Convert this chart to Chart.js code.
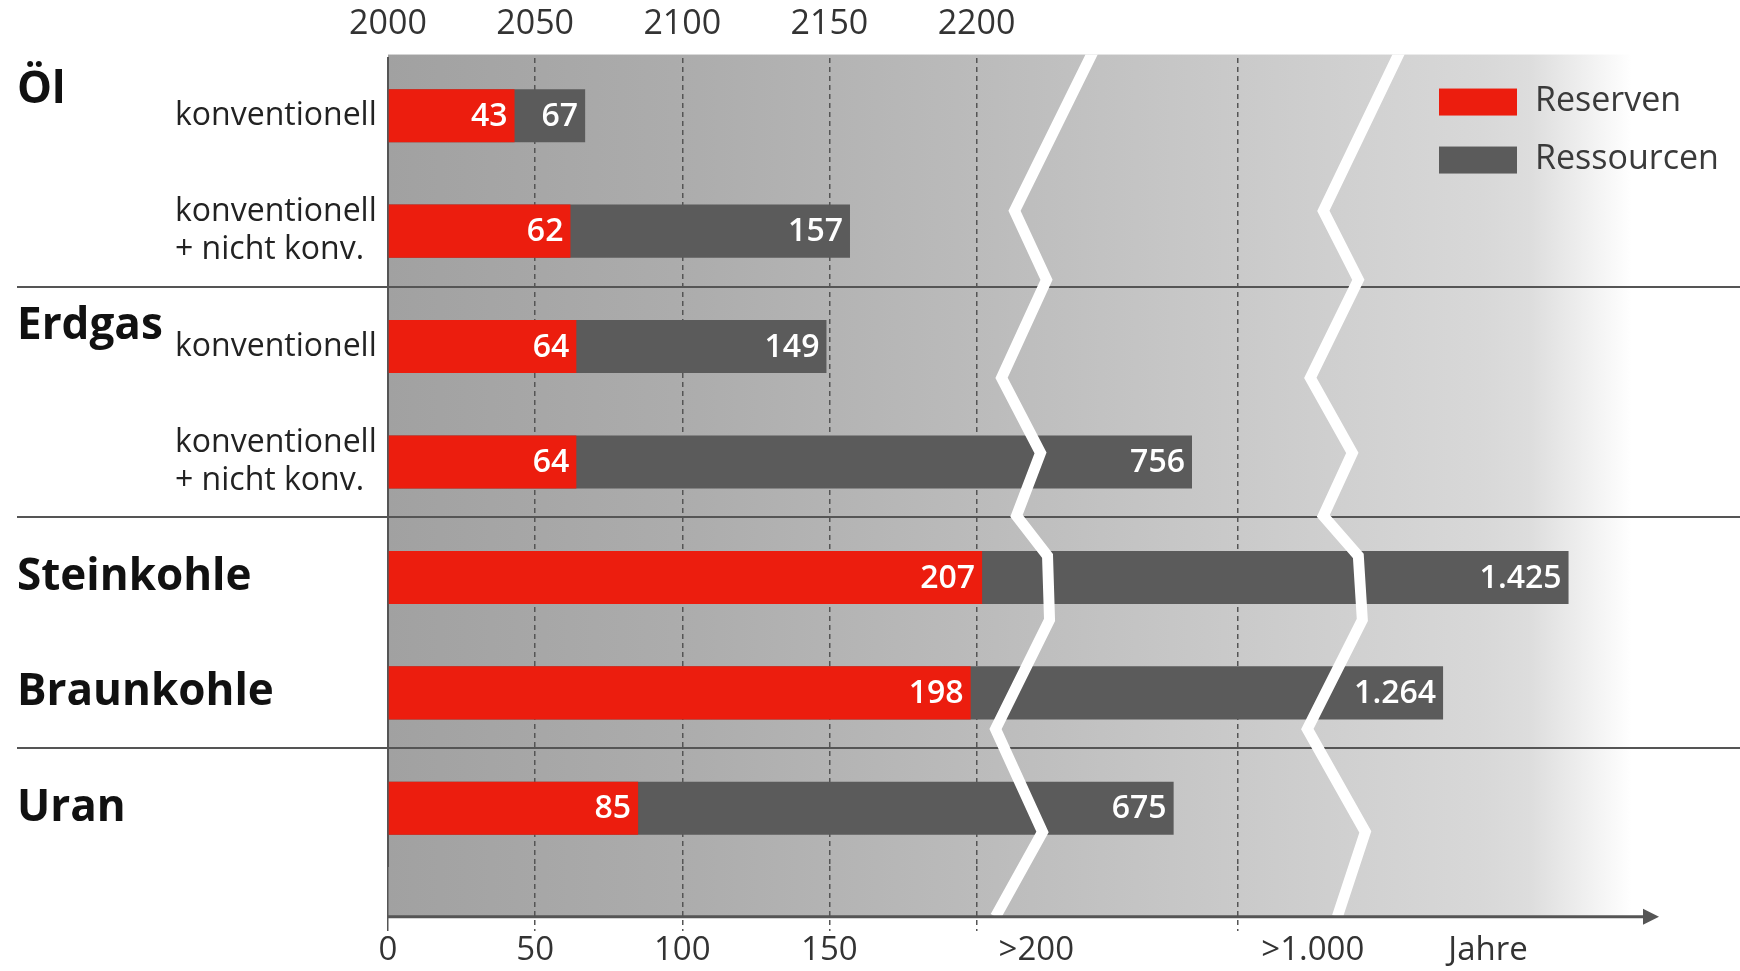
<!DOCTYPE html>
<html>
<head>
<meta charset="utf-8">
<title>Reichweite Energierohstoffe</title>
<script src="https://cdn.jsdelivr.net/npm/chart.js@4.4.1/dist/chart.umd.min.js"></script>
<style>
  html, body { margin: 0; padding: 0; background: #fff; }
</style>
</head>
<body>
<canvas id="chart" width="1740" height="971"></canvas>
<script>
// rows of the chart (sub labels next to the axis, group names further out)
const rowLabels = ['konventionell', ['konventionell', '+ nicht konv.'], 'konventionell', ['konventionell', '+ nicht konv.'], '', '', ''];
const groupLabels = [['Öl', ''], '', ['Erdgas', ''], '', 'Steinkohle', 'Braunkohle', 'Uran'];
const groupEnds = [1, 3, 5];

// Reichweite in Jahren
const reserven = [43, 62, 64, 64, 207, 198, 85];
const ressourcen = [67, 157, 149, 756, 1425, 1264, 675];

// ticks
const tickYears = [0, 50, 100, 150, 200, 1000];
const topTickLabels = ['2000', '2050', '2100', '2150', '2200', ''];
const bottomTickLabels = ['0', '50', '100', '150', '', ''];
const breakLabels = ['>200', '>1.000'];
const unitLabel = 'Jahre';

// axis is broken: 0-200 linear, 200-1000 compressed (log), after 1000 linear again
const axisBreaks = [
  {v: 0, at: 0},
  {v: 200, at: 0.4353},
  {v: 1000, at: 0.6282, log: true},
  {v: 1645, at: 1}
];

// white zigzag break marks, [category position, px offset]
const zigA = [[-0.53, 75], [0.824, -6], [1.422, 26], [2.271, -19], [2.921, 20], [3.467, -4], [3.813, 27], [4.368, 29], [5.313, -25], [6.205, 22], [6.94, -25]];
const zigB = [[-0.53, 72], [0.824, -7], [1.422, 28], [2.271, -20], [2.921, 22], [3.467, -7], [3.813, 28], [4.368, 32], [5.313, -23], [6.205, 35], [6.94, 7]];
const breakMarks = [{at: 200, shift: 44, shape: zigA}, {at: 1000, shift: 93, shape: zigB}];

const plotTop = -0.53;
const plotBottom = 6.94;
const sepOffset = 0.48;
const tickLen = 65;
const tickSize = 33;
const red = '#ec1d0e';
const dark = '#5b5b5b';
const lineCol = '#555555';

Chart.defaults.font.family = "'Open Sans', sans-serif";
Chart.defaults.color = '#333';

class BrokenScale extends Chart.LinearScale {
  buildTicks() {
    return tickYears.map(v => ({value: v}));
  }
  toFrac(v) {
    for (let i = 1; i < axisBreaks.length; i++) {
      const a = axisBreaks[i - 1], b = axisBreaks[i];
      if (v <= b.v || i === axisBreaks.length - 1) {
        const t = b.log ? Math.log(v / a.v) / Math.log(b.v / a.v) : (v - a.v) / (b.v - a.v);
        return a.at + t * (b.at - a.at);
      }
    }
    return 0;
  }
  getPixelForValue(v) {
    return this.getPixelForDecimal(this.toFrac(v));
  }
  getValueForPixel(p) {
    const f = this.getDecimalForPixel(p);
    for (let i = 1; i < axisBreaks.length; i++) {
      const a = axisBreaks[i - 1], b = axisBreaks[i];
      if (f <= b.at || i === axisBreaks.length - 1) {
        const t = (f - a.at) / (b.at - a.at);
        return b.log ? a.v * Math.pow(b.v / a.v, t) : a.v + t * (b.v - a.v);
      }
    }
    return 0;
  }
}
BrokenScale.id = 'broken';
Chart.register(BrokenScale);

function fmt(v) {
  return String(v).replace(/\B(?=(\d{3})+(?!\d))/g, '.');
}

const decor = {
  id: 'decor',
  beforeDraw(chart) {
    const {ctx, chartArea, scales: {y}} = chart;
    const top = y.getPixelForValue(plotTop);
    const bottom = y.getPixelForValue(plotBottom);
    const g = ctx.createLinearGradient(chartArea.left, 0, chart.width, 0);
    g.addColorStop(0, '#a1a1a1');
    g.addColorStop(0.23, '#adadad');
    g.addColorStop(0.45, '#bcbcbc');
    g.addColorStop(0.67, '#cdcdcd');
    g.addColorStop(0.81, '#d8d8d8');
    g.addColorStop(0.845, '#dddddd');
    g.addColorStop(0.92, '#ffffff');
    g.addColorStop(1, '#ffffff');
    ctx.save();
    ctx.fillStyle = g;
    ctx.fillRect(chartArea.left, top, chart.width - chartArea.left, bottom - top);
    ctx.restore();
  },
  beforeDatasetsDraw(chart) {
    const {ctx, scales: {y}} = chart;
    ctx.save();
    ctx.strokeStyle = lineCol;
    ctx.lineWidth = 2;
    groupEnds.forEach(i => {
      const py = Math.round(y.getPixelForValue(i + sepOffset));
      ctx.beginPath();
      ctx.moveTo(17, py);
      ctx.lineTo(chart.width, py);
      ctx.stroke();
    });
    ctx.restore();
  },
  afterDatasetsDraw(chart) {
    const {ctx, chartArea, scales: {x, y}} = chart;
    const top = y.getPixelForValue(plotTop);
    const bottom = y.getPixelForValue(plotBottom);

    // break marks
    ctx.save();
    ctx.beginPath();
    ctx.rect(chartArea.left, top, chart.width - chartArea.left, bottom - top);
    ctx.clip();
    ctx.strokeStyle = '#ffffff';
    ctx.lineWidth = 11;
    ctx.lineJoin = 'miter';
    breakMarks.forEach(m => {
      const base = x.getPixelForValue(m.at) + m.shift;
      ctx.beginPath();
      m.shape.forEach(([u, dx], i) => {
        const px = base + dx, py = y.getPixelForValue(u);
        if (i === 0) ctx.moveTo(px, py - 8); else ctx.lineTo(px, py);
      });
      ctx.stroke();
    });
    ctx.restore();

    // value labels at the bar ends
    ctx.save();
    ctx.fillStyle = '#ffffff';
    ctx.font = "600 32px 'Open Sans', sans-serif";
    ctx.textAlign = 'right';
    ctx.textBaseline = 'middle';
    chart.data.datasets.forEach((ds, di) => {
      chart.getDatasetMeta(di).data.forEach((bar, i) => {
        ctx.fillText(fmt(ds.data[i]), bar.x - 7, bar.y + 1);
      });
    });
    ctx.restore();
  },
  afterDraw(chart) {
    const {ctx, chartArea, scales: {x, y}} = chart;
    const bottom = y.getPixelForValue(plotBottom);

    // axis arrow
    const end = chartArea.right - 81;
    ctx.save();
    ctx.strokeStyle = lineCol;
    ctx.fillStyle = lineCol;
    ctx.lineWidth = 3;
    ctx.beginPath();
    ctx.moveTo(chartArea.left, bottom);
    ctx.lineTo(end - 10, bottom);
    ctx.stroke();
    ctx.beginPath();
    ctx.moveTo(end, bottom);
    ctx.lineTo(end - 16, bottom - 8);
    ctx.lineTo(end - 16, bottom + 8);
    ctx.closePath();
    ctx.fill();

    // labels of the broken part of the axis
    const ty = x.top + tickLen + tickSize * 0.6;
    ctx.font = tickSize + "px 'Open Sans', sans-serif";
    ctx.fillStyle = '#333';
    ctx.textAlign = 'left';
    ctx.textBaseline = 'middle';
    ctx.fillText(breakLabels[0], x.getPixelForValue(200) + 22, ty);
    ctx.fillText(breakLabels[1], x.getPixelForValue(1000) + 24, ty);
    ctx.fillText(unitLabel, x.getPixelForValue(1000) + 211, ty);

    // legend
    const lx = chartArea.right - 301;
    const ly = y.getPixelForValue(plotTop) + 47;
    ctx.font = "34px 'Open Sans', sans-serif";
    chart.data.datasets.forEach((ds, i) => {
      const cy = ly + i * 58;
      ctx.fillStyle = ds.backgroundColor;
      ctx.fillRect(lx, cy - 13, 78, 27);
      ctx.fillStyle = '#3a3a3a';
      ctx.fillText(ds.label, lx + 96, cy);
    });
    ctx.restore();
  }
};

new Chart(document.getElementById('chart'), {
  type: 'bar',
  data: {
    labels: rowLabels,
    datasets: [
      {label: 'Reserven', data: reserven, backgroundColor: red, order: 0},
      {label: 'Ressourcen', data: ressourcen, backgroundColor: dark, order: 1}
    ]
  },
  options: {
    indexAxis: 'y',
    responsive: false,
    animation: false,
    events: [],
    layout: {padding: {left: 17, right: 0, top: 0, bottom: 0}},
    datasets: {
      bar: {grouped: false, barPercentage: 0.46, categoryPercentage: 1, borderWidth: 0}
    },
    plugins: {
      legend: {display: false},
      tooltip: {enabled: false}
    },
    scales: {
      x: {
        type: 'broken',
        position: 'bottom',
        min: 0,
        max: 1645,
        afterFit: s => { s.height = 105; },
        grid: {
          color: ctx => ctx.tick && ctx.tick.value === 0 ? 'rgba(0,0,0,0)' : lineCol,
          lineWidth: 1.5,
          tickLength: tickLen,
          tickColor: lineCol,
          tickWidth: 1.5,
          tickBorderDash: ctx => ctx.tick && ctx.tick.value === 0 ? [] : [5, 4]
        },
        border: {display: false, dash: [5, 4]},
        ticks: {
          autoSkip: false,
          maxRotation: 0,
          padding: 0,
          color: '#333',
          font: {size: tickSize},
          callback: (v, i) => bottomTickLabels[i]
        }
      },
      x2: {
        type: 'broken',
        position: 'top',
        min: 0,
        max: 1645,
        afterFit: s => { s.height = 58; },
        grid: {display: false, drawTicks: false},
        border: {display: false},
        ticks: {
          autoSkip: false,
          maxRotation: 0,
          padding: 13,
          color: '#333',
          font: {size: 34},
          callback: (v, i) => topTickLabels[i]
        }
      },
      y: {
        type: 'category',
        position: 'left',
        offset: true,
        weight: 0,
        afterFit: s => { s.width = 213; },
        grid: {display: false},
        border: {display: true, color: lineCol, width: 2},
        ticks: {
          autoSkip: false,
          crossAlign: 'far',
          color: '#222',
          font: {size: 32, lineHeight: 1.18}
        }
      },
      y2: {
        type: 'category',
        position: 'left',
        labels: groupLabels,
        offset: true,
        weight: 1,
        afterFit: s => { s.width = 158; },
        grid: {display: false},
        border: {display: false},
        ticks: {
          autoSkip: false,
          // mirrored so the long names are not clipped to the narrow axis box
          mirror: true,
          padding: -158,
          color: '#111',
          font: ctx => ({size: 44, weight: 'bold', lineHeight: ctx.index === 0 ? 1.14 : ctx.index === 2 ? 0.91 : 1.2})
        }
      }
    }
  },
  plugins: [decor]
});
</script>
</body>
</html>
